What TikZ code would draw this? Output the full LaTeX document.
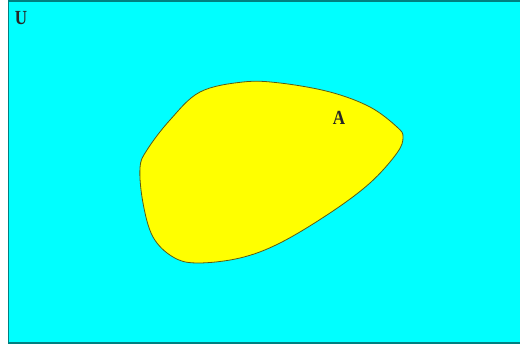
\documentclass[tikz,border=0pt]{standalone}
\usepackage{fontspec}
\setmainfont{Liberation Serif}
\definecolor{univcyan}{RGB}{0,255,255}
\definecolor{univedge}{RGB}{0,128,128}
\definecolor{setyellow}{RGB}{255,255,0}
\definecolor{setedge}{RGB}{90,90,20}
\tikzset{
  universo/.style={fill=univcyan, draw=univedge, line width=1.5pt},
  conjunto/.style={fill=setyellow, draw=setedge, line width=0.8pt},
  etiqueta/.style={font=\bfseries\fontsize{20}{20}\selectfont, text=black!85, inner sep=0pt, xscale=0.85}
}
\begin{document}
\begin{tikzpicture}[x=1pt,y=-1pt]
  \useasboundingbox (0,0) rectangle (520,344);
  % universo
  \draw [universo] (8.5,1) rectangle (524,343);
  % conjunto A
  \draw [conjunto] plot [smooth cycle, tension=0.6] coordinates {
    (243,82) (280,83) (330,92) (370,107) (397,127) (403,137) (397,153)
    (370,183) (330,213) (280,243) (240,258) (197,263) (173,257) (153,237)
    (143,203) (140,168) (147,150) (170,120) (200,92)};
  \node (u) [etiqueta] at (21,18) {U};
  \node (a) [etiqueta] at (339,118) {A};
\end{tikzpicture}
\end{document}
